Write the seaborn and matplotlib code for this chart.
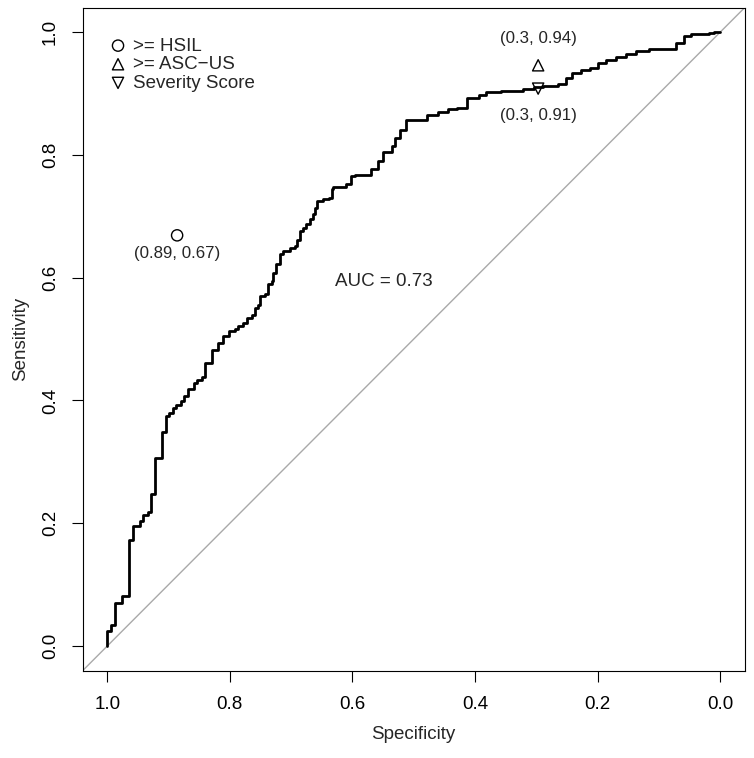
import pandas as pd
import matplotlib.pyplot as plt
import seaborn as sns

# ROC curve points (specificity, sensitivity)
specificity = [1.000, 1.000, 0.994, 0.994, 0.988, 0.988, 0.976, 0.976, 0.964, 0.964,
               0.958, 0.958, 0.946, 0.946, 0.941, 0.941, 0.934, 0.934, 0.928, 0.928,
               0.922, 0.922, 0.910, 0.910, 0.904, 0.904, 0.899, 0.899, 0.892, 0.892,
               0.887, 0.887, 0.880, 0.880, 0.874, 0.874, 0.868, 0.868, 0.859, 0.859,
               0.854, 0.854, 0.846, 0.846, 0.840, 0.840, 0.829, 0.829, 0.819, 0.819,
               0.811, 0.811, 0.802, 0.802, 0.792, 0.792, 0.786, 0.786, 0.778, 0.778,
               0.772, 0.772, 0.764, 0.764, 0.759, 0.759, 0.754, 0.754, 0.751, 0.751,
               0.743, 0.743, 0.737, 0.737, 0.732, 0.732, 0.729, 0.729, 0.724, 0.724,
               0.718, 0.718, 0.713, 0.713, 0.702, 0.702, 0.694, 0.694, 0.691, 0.691,
               0.686, 0.686, 0.680, 0.680, 0.675, 0.675, 0.669, 0.669, 0.664, 0.664,
               0.661, 0.661, 0.658, 0.658, 0.648, 0.648, 0.639, 0.639, 0.634, 0.634,
               0.631, 0.631, 0.610, 0.610, 0.602, 0.602, 0.596, 0.596, 0.569, 0.569,
               0.558, 0.558, 0.550, 0.550, 0.536, 0.536, 0.531, 0.531, 0.523, 0.523,
               0.512, 0.512, 0.479, 0.479, 0.460, 0.460, 0.444, 0.444, 0.430, 0.430,
               0.413, 0.413, 0.393, 0.393, 0.382, 0.382, 0.357, 0.357, 0.321, 0.321,
               0.304, 0.304, 0.289, 0.289, 0.265, 0.265, 0.251, 0.251, 0.241, 0.241,
               0.227, 0.227, 0.213, 0.213, 0.200, 0.200, 0.186, 0.186, 0.170, 0.170,
               0.154, 0.154, 0.137, 0.137, 0.116, 0.116, 0.072, 0.072, 0.059, 0.059,
               0.048, 0.048, 0.018, 0.018, 0.010, 0.010, 0.000]
sensitivity = [0.000, 0.024, 0.024, 0.034, 0.034, 0.070, 0.070, 0.082, 0.082, 0.173,
               0.173, 0.195, 0.195, 0.204, 0.204, 0.213, 0.213, 0.218, 0.218, 0.248,
               0.248, 0.307, 0.307, 0.349, 0.349, 0.375, 0.375, 0.380, 0.380, 0.388,
               0.388, 0.392, 0.392, 0.399, 0.399, 0.407, 0.407, 0.418, 0.418, 0.429,
               0.429, 0.434, 0.434, 0.439, 0.439, 0.461, 0.461, 0.483, 0.483, 0.494,
               0.494, 0.505, 0.505, 0.513, 0.513, 0.516, 0.516, 0.521, 0.521, 0.526,
               0.526, 0.535, 0.535, 0.540, 0.540, 0.551, 0.551, 0.556, 0.556, 0.570,
               0.570, 0.573, 0.573, 0.589, 0.589, 0.594, 0.594, 0.608, 0.608, 0.622,
               0.622, 0.638, 0.638, 0.643, 0.643, 0.649, 0.649, 0.651, 0.651, 0.662,
               0.662, 0.676, 0.676, 0.681, 0.681, 0.687, 0.687, 0.695, 0.695, 0.703,
               0.703, 0.714, 0.714, 0.725, 0.725, 0.728, 0.728, 0.730, 0.730, 0.744,
               0.744, 0.747, 0.747, 0.752, 0.752, 0.766, 0.766, 0.768, 0.768, 0.777,
               0.777, 0.790, 0.790, 0.804, 0.804, 0.815, 0.815, 0.827, 0.827, 0.841,
               0.841, 0.857, 0.857, 0.865, 0.865, 0.870, 0.870, 0.874, 0.874, 0.877,
               0.877, 0.893, 0.893, 0.897, 0.897, 0.902, 0.902, 0.904, 0.904, 0.907,
               0.907, 0.911, 0.911, 0.912, 0.912, 0.916, 0.916, 0.926, 0.926, 0.933,
               0.933, 0.939, 0.939, 0.942, 0.942, 0.949, 0.949, 0.954, 0.954, 0.959,
               0.959, 0.964, 0.964, 0.970, 0.970, 0.973, 0.973, 0.983, 0.983, 0.994,
               0.994, 0.997, 0.997, 0.999, 0.999, 1.000, 1.000]

# single cut-off tests
tests = [">= HSIL", ">= ASC\u2212US", "Severity Score"]
test_spec = [0.886, 0.297, 0.297]
test_sens = [0.669, 0.946, 0.908]
test_markers = ["o", "^", "v"]
test_labels = ["(0.89, 0.67)", "(0.3, 0.94)", "(0.3, 0.91)"]
label_offset = [-0.037, 0.036, -0.051]

auc_text = "AUC = 0.73"

sns.set_style("white")
plt.rcParams['font.family'] = ['Liberation Sans', 'DejaVu Sans']
plt.rcParams['font.size'] = 13.5

roc = pd.DataFrame({"Specificity": specificity, "Sensitivity": sensitivity})

fig = plt.figure(figsize=(7.54, 7.58), dpi=100)
ax = fig.add_axes([0.1097, 0.1153, 0.878, 0.8747])

# identity line
ax.axline((1, 0), (0, 1), color="#a9a9a9", lw=1, zorder=1)

sns.lineplot(data=roc, x="Specificity", y="Sensitivity", sort=False,
             estimator=None, color="black", lw=2, ax=ax, zorder=3)

for i in range(len(tests)):
    sns.scatterplot(x=[test_spec[i]], y=[test_sens[i]], marker=test_markers[i],
                    s=65, facecolors="none", edgecolor="black", linewidth=1,
                    label=tests[i], ax=ax, zorder=4)
    ax.text(test_spec[i], test_sens[i] + label_offset[i], test_labels[i],
            ha="center", va="baseline", fontsize=12.2)

ax.text(0.548, 0.587, auc_text, ha="center", va="baseline", fontsize=13.5)

ax.set_xlim(1.04, -0.04)
ax.set_ylim(-0.04, 1.04)
ticks = [0.0, 0.2, 0.4, 0.6, 0.8, 1.0]
ax.set_xticks(ticks)
ax.set_xticklabels([f"{t:.1f}" for t in ticks])
ax.set_yticks(ticks)
ax.set_yticklabels([f"{t:.1f}" for t in ticks], rotation=90, va="center")
ax.tick_params(direction="out", length=8, width=0.8, color="black",
               labelsize=13.5, labelcolor="black", bottom=True, left=True)
ax.tick_params(axis="x", pad=10.5)
ax.tick_params(axis="y", pad=9)
for sp in ax.spines.values():
    sp.set_color("black")
    sp.set_linewidth(0.8)

ax.set_xlabel("Specificity", fontsize=13.5, labelpad=9)
ax.set_ylabel("Sensitivity", fontsize=13.5, labelpad=9)

ax.legend(loc="upper left", bbox_to_anchor=(0.042, 0.955), frameon=False,
          handlelength=0.8, handletextpad=0.42, labelspacing=0.08,
          borderpad=0, borderaxespad=0, fontsize=13.5)

fig.savefig("out.png", dpi=100)
